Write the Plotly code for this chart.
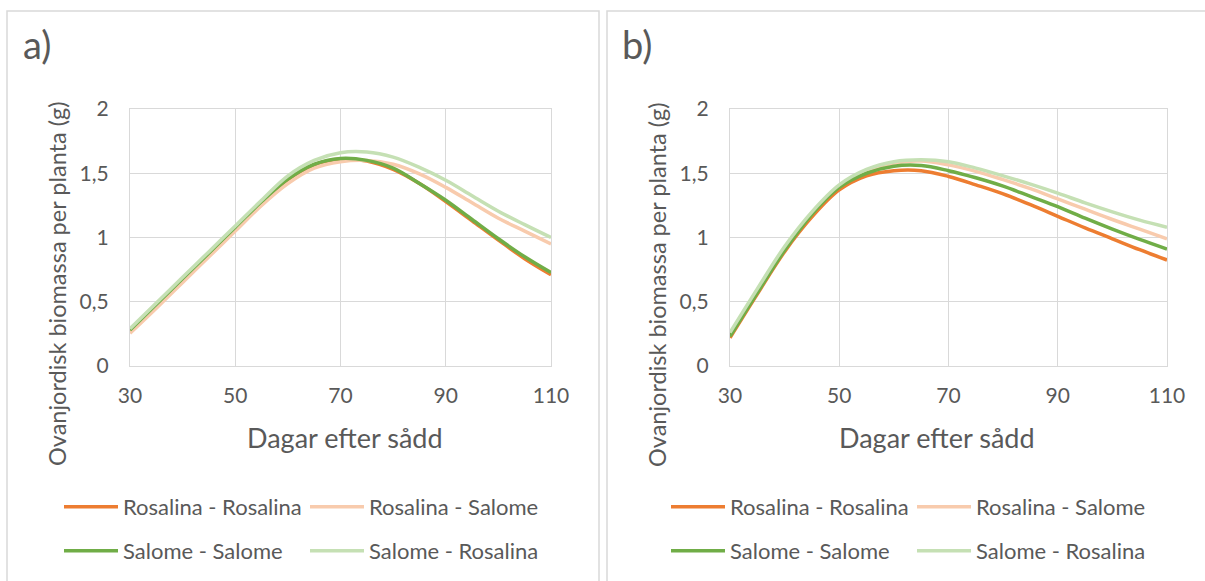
import plotly.graph_objects as go

days = [30, 35, 40, 45, 50, 55, 60, 65, 70, 75, 80, 85, 90, 95, 100, 105, 110]
series_names = ["Rosalina - Rosalina", "Rosalina - Salome", "Salome - Salome", "Salome - Rosalina"]
colors = ["#ED7D31", "#F8CBAD", "#70AD47", "#C5E0B4"]

# Panel a)
a_rr = [0.27, 0.47, 0.67, 0.87, 1.07, 1.27, 1.45, 1.565, 1.61, 1.595, 1.53, 1.42, 1.28, 1.13, 0.98, 0.835, 0.71]
a_rs = [0.255, 0.45, 0.65, 0.85, 1.05, 1.25, 1.42, 1.54, 1.59, 1.60, 1.57, 1.495, 1.39, 1.27, 1.15, 1.05, 0.95]
a_ss = [0.28, 0.48, 0.68, 0.88, 1.08, 1.28, 1.455, 1.57, 1.615, 1.60, 1.54, 1.42, 1.29, 1.14, 0.99, 0.85, 0.727]
a_sr = [0.29, 0.49, 0.69, 0.89, 1.09, 1.29, 1.48, 1.60, 1.66, 1.665, 1.625, 1.545, 1.445, 1.325, 1.205, 1.10, 1.00]

# Panel b)
b_rr = [0.22, 0.56, 0.89, 1.16, 1.37, 1.48, 1.52, 1.52, 1.475, 1.41, 1.34, 1.255, 1.165, 1.075, 0.99, 0.905, 0.825]
b_rs = [0.24, 0.58, 0.91, 1.19, 1.40, 1.52, 1.58, 1.595, 1.565, 1.515, 1.45, 1.38, 1.30, 1.22, 1.14, 1.065, 0.99]
b_ss = [0.23, 0.57, 0.90, 1.18, 1.39, 1.50, 1.555, 1.56, 1.52, 1.465, 1.40, 1.32, 1.24, 1.15, 1.065, 0.985, 0.91]
b_sr = [0.26, 0.60, 0.93, 1.20, 1.41, 1.53, 1.59, 1.605, 1.59, 1.54, 1.48, 1.415, 1.345, 1.27, 1.20, 1.135, 1.08]

x_ticks = [30, 50, 70, 90, 110]
y_ticks = [0, 0.5, 1, 1.5, 2]
y_ticktext = ["0", "0,5", "1", "1,5", "2"]
panel_labels = ["a)", "b)"]
x_title = "Dagar efter sådd"
y_title = "Ovanjordisk biomassa per planta (g)"

W, H = 1205, 581
FONT = "Lato"
TXT = "#595959"
GRID = "#D9D9D9"

fig = go.Figure()

panels = [
    ("x", "y", [a_rr, a_rs, a_ss, a_sr], ["legend", "legend", "legend2", "legend2"]),
    ("x2", "y2", [b_rr, b_rs, b_ss, b_sr], ["legend3", "legend3", "legend4", "legend4"]),
]
for xa, ya, data, legs in panels:
    for name, col, vals, lg in zip(series_names, colors, data, legs):
        fig.add_trace(go.Scatter(
            x=days, y=vals, name=name, mode="lines",
            line=dict(color=col, width=3.5, shape="spline", smoothing=1.0),
            xaxis=xa, yaxis=ya, legend=lg, showlegend=True,
        ))

def px_x(p):
    return p / W

def px_y(p):
    return 1 - p / H

ydom = [px_y(366), px_y(109)]
axis_common = dict(
    showgrid=True, gridcolor=GRID, gridwidth=1.3,
    showline=True, linecolor=GRID, linewidth=1.3, mirror=True,
    ticks="", zeroline=False, automargin=False,
    tickfont=dict(family=FONT, size=21, color=TXT),
)
fig.update_layout(
    xaxis=dict(domain=[px_x(130), px_x(551)], range=[30, 110], tickvals=x_ticks,
               anchor="y", ticklabelstandoff=11, **axis_common),
    yaxis=dict(domain=ydom, range=[0, 2], tickvals=y_ticks, ticktext=y_ticktext,
               anchor="x", ticklabelstandoff=16, **axis_common),
    xaxis2=dict(domain=[px_x(730), px_x(1167)], range=[30, 110], tickvals=x_ticks,
                anchor="y2", ticklabelstandoff=11, **axis_common),
    yaxis2=dict(domain=ydom, range=[0, 2], tickvals=y_ticks, ticktext=y_ticktext,
                anchor="x2", ticklabelstandoff=16, **axis_common),
)

leg_common = dict(orientation="h", xanchor="left", yanchor="middle",
                  font=dict(family=FONT, size=22, color=TXT),
                  bgcolor="rgba(0,0,0,0)", entrywidth=177, entrywidthmode="pixels",
                  itemwidth=54, traceorder="normal", borderwidth=0)
fig.update_layout(
    legend=dict(x=px_x(59), y=px_y(507), **leg_common),
    legend2=dict(x=px_x(59), y=px_y(551), **leg_common),
    legend3=dict(x=px_x(666), y=px_y(507), **leg_common),
    legend4=dict(x=px_x(666), y=px_y(551), **leg_common),
)

annotations = []
for lbl, lx, tx in [(panel_labels[0], 21, 57), (panel_labels[1], 620, 657)]:
    annotations.append(dict(text=lbl, x=px_x(lx), y=px_y(44), xref="paper", yref="paper",
                            xanchor="left", yanchor="middle", showarrow=False,
                            font=dict(family=FONT, size=38, color=TXT)))
    annotations.append(dict(text=y_title, x=px_x(tx), y=px_y(284), xref="paper", yref="paper",
                            xanchor="center", yanchor="middle", showarrow=False, textangle=-90,
                            font=dict(family=FONT, size=23.5, color=TXT)))
annotations.append(dict(text=x_title, x=px_x(345), y=px_y(437), xref="paper", yref="paper",
                        xanchor="center", yanchor="middle", showarrow=False,
                        font=dict(family=FONT, size=27, color=TXT)))
annotations.append(dict(text=x_title, x=px_x(937), y=px_y(437), xref="paper", yref="paper",
                        xanchor="center", yanchor="middle", showarrow=False,
                        font=dict(family=FONT, size=27, color=TXT)))

shapes = [
    dict(type="rect", xref="paper", yref="paper", x0=px_x(7), x1=px_x(599), y0=px_y(600), y1=px_y(11),
         line=dict(color=GRID, width=1.5), fillcolor="rgba(0,0,0,0)", layer="below"),
    dict(type="rect", xref="paper", yref="paper", x0=px_x(607), x1=px_x(1220), y0=px_y(600), y1=px_y(11),
         line=dict(color=GRID, width=1.5), fillcolor="rgba(0,0,0,0)", layer="below"),
]

fig.update_layout(
    width=W, height=H, margin=dict(l=0, r=0, t=0, b=0, autoexpand=False),
    paper_bgcolor="white", plot_bgcolor="white",
    annotations=annotations, shapes=shapes,
    font=dict(family=FONT, color=TXT),
)

fig.write_html("out.html")
